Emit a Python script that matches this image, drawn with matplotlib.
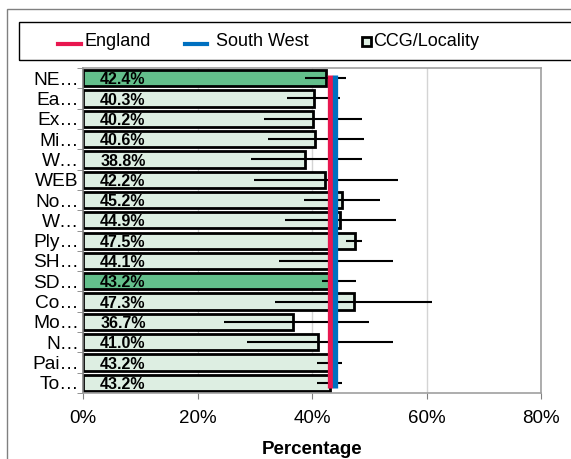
import matplotlib
matplotlib.use("Agg")
import matplotlib.pyplot as plt
import numpy as np
from matplotlib.lines import Line2D
from matplotlib.patches import Rectangle

plt.rcParams['font.family'] = ['Liberation Sans', 'DejaVu Sans']

categories = ["NE\u2026", "Ea\u2026", "Ex\u2026", "Mi\u2026", "W\u2026", "WEB", "No\u2026", "W\u2026",
              "Ply\u2026", "SH\u2026", "SD\u2026", "Co\u2026", "Mo\u2026", "N\u2026", "Pai\u2026", "To\u2026"]
values = [42.4, 40.3, 40.2, 40.6, 38.8, 42.2, 45.2, 44.9, 47.5, 44.1, 43.2, 47.3, 36.7, 41.0, 43.2, 43.2]
ci_low = [38.8, 35.7, 31.7, 32.3, 29.3, 29.9, 38.6, 35.2, 45.9, 34.3, 41.7, 33.6, 24.6, 28.6, 40.9, 40.9]
ci_high = [45.9, 44.9, 48.8, 49.1, 48.7, 55.0, 51.8, 54.6, 48.8, 54.1, 47.6, 61.0, 50.0, 54.1, 45.3, 45.3]
highlight = ["NE\u2026", "SD\u2026"]
england = 43.1
south_west = 44.0
x_ticks = [0, 20, 40, 60, 80]

W, H = 571, 459
fig = plt.figure(figsize=(W / 100, H / 100), dpi=100)

def fx(x):
    return x / W

def fy(y):
    return 1 - y / H

ax = fig.add_axes([fx(83), fy(393), fx(541) - fx(83), fy(68) - fy(393)])

n = len(categories)
pos = np.arange(n)
vals = np.array(values)
lo = np.array(ci_low)
hi = np.array(ci_high)
colors = ["#63bf8b" if c in highlight else "#ddeee2" for c in categories]

ax.barh(pos, vals, height=0.8, color=colors, edgecolor="black", linewidth=2.0, zorder=2)
ax.errorbar(vals, pos, xerr=[vals - lo, hi - vals], fmt="none", ecolor="black",
            elinewidth=1.5, capsize=0, zorder=3)
ax.vlines(england, -0.15, n - 0.75, colors="#e8174f", linewidth=3.8, zorder=4)
ax.vlines(south_west, -0.15, n - 0.75, colors="#0070c0", linewidth=3.8, zorder=4)

for p, v in zip(pos, vals):
    ax.text(3.0, p + 0.08, f"{v:.1f}%", ha="left", va="center", fontsize=11.5,
            fontweight="bold", zorder=5)

ax.set_xlim(0, 80)
ax.set_ylim(n - 0.5, -0.5)
ax.set_xticks(x_ticks)
ax.set_xticklabels([f"{t}%" for t in x_ticks], fontsize=13.5)
ax.set_yticks(pos)
ax.set_yticklabels(categories, fontsize=13.8)
ax.set_yticks(np.arange(-0.5, n, 1.0), minor=True)
ax.tick_params(axis="y", which="major", length=0, pad=3)
ax.tick_params(axis="y", which="minor", length=4, color="#808080", direction="out")
ax.tick_params(axis="x", which="major", length=4, color="#808080", direction="out", pad=8)
ax.grid(axis="x", color="#d4d4d4", linewidth=1.0, zorder=0)
ax.set_axisbelow(True)
for s in ax.spines.values():
    s.set_color("#a0a0a0")
    s.set_linewidth(1.2)
ax.spines["left"].set_color("#808080")
ax.set_xlabel("Percentage", fontsize=13.5, fontweight="bold", labelpad=10)

# figure border
fig.add_artist(Rectangle((fx(7), fy(470)), fx(590) - fx(7), fy(9) - fy(470),
                         transform=fig.transFigure, fill=False, edgecolor="#808080",
                         linewidth=1.0, clip_on=False))

# legend
fig.add_artist(Rectangle((fx(19), fy(60)), fx(590) - fx(19), fy(22) - fy(60),
                         transform=fig.transFigure, fill=False, edgecolor="black",
                         linewidth=1.0, clip_on=False))
fig.add_artist(Line2D([fx(58), fx(81)], [fy(44), fy(44)], color="#e8174f", linewidth=3,
                      transform=fig.transFigure))
fig.text(fx(85), fy(41), "England", fontsize=13, va="center", ha="left")
fig.add_artist(Line2D([fx(185), fx(207)], [fy(44), fy(44)], color="#0070c0", linewidth=3,
                      transform=fig.transFigure))
fig.text(fx(216), fy(41), "South West", fontsize=13, va="center", ha="left")
fig.add_artist(Rectangle((fx(362), fy(46)), fx(371) - fx(362), fy(37) - fy(46),
                         transform=fig.transFigure, facecolor="#ddeee2", edgecolor="black",
                         linewidth=2.0))
fig.text(fx(373), fy(41), "CCG/Locality", fontsize=13, va="center", ha="left")

fig.savefig("out.png", dpi=100)
